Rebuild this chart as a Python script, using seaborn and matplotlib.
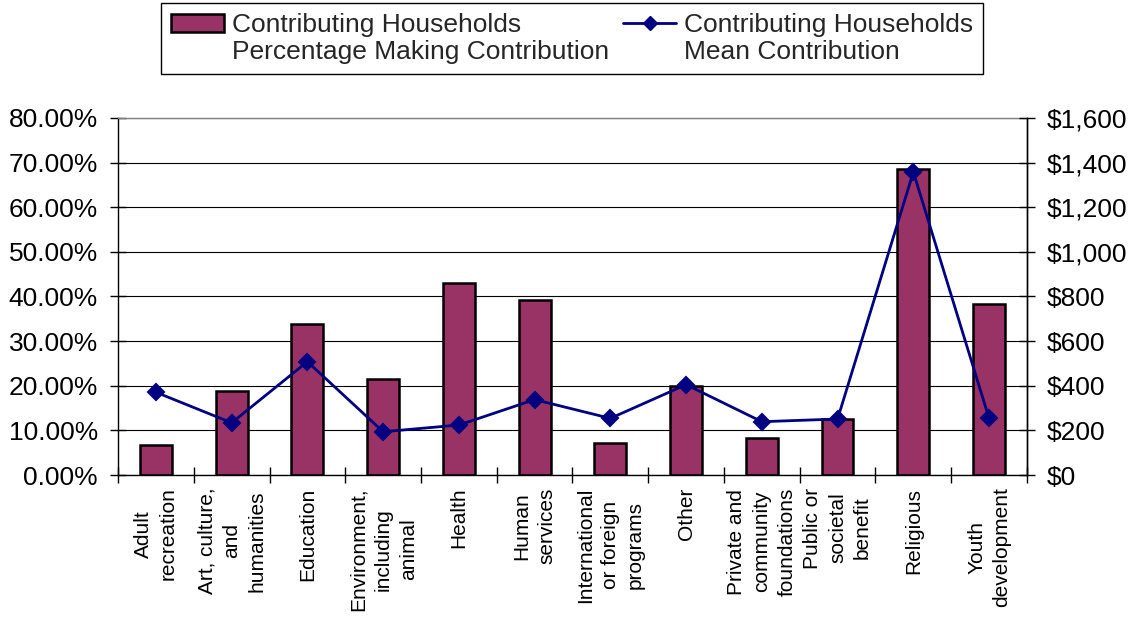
import numpy as np
import seaborn as sns
import matplotlib.pyplot as plt
from matplotlib.lines import Line2D
from matplotlib.patches import Patch
from matplotlib.ticker import PercentFormatter, FuncFormatter, MultipleLocator

# values
categories = [
    "Adult\nrecreation",
    "Art, culture,\nand\nhumanities",
    "Education",
    "Environment,\nincluding\nanimal",
    "Health",
    "Human\nservices",
    "International\nor foreign\nprograms",
    "Other",
    "Private and\ncommunity\nfoundations",
    "Public or\nsocietal\nbenefit",
    "Religious",
    "Youth\ndevelopment",
]
pct_making = [6.7, 18.8, 33.9, 21.6, 43.0, 39.3, 7.2, 20.0, 8.4, 12.6, 68.6, 38.4]
mean_contribution = [371, 234, 508, 194, 224, 338, 254, 405, 239, 251, 1358, 254]

bar_legend = ["Contributing Households", "Percentage Making Contribution"]
line_legend = ["Contributing Households", "Mean Contribution"]

bar_color = "#993366"
line_color = "#000080"

sns.set_theme(style="white")
plt.rcParams["font.family"] = ["Liberation Sans", "DejaVu Sans"]

fig = plt.figure(figsize=(11.35, 6.17), dpi=100)
ax = fig.add_axes([0.104, 0.2301, 0.8008, 0.5787])

# bars - percentage making contribution
sns.barplot(x=categories, y=pct_making, ax=ax, color=bar_color, saturation=1,
            width=0.42, edgecolor="black", linewidth=1.8)

# line - mean contribution on the right axis
ax2 = ax.twinx()
sns.pointplot(x=categories, y=mean_contribution, ax=ax2, color=line_color,
              markers="D", markersize=8.5, linewidth=2, errorbar=None)

# left axis
ax.set_ylim(0, 80)
ax.yaxis.set_major_locator(MultipleLocator(10))
ax.yaxis.set_major_formatter(PercentFormatter(100, decimals=2))
ax.grid(axis="y", color="black", linewidth=0.8)
ax.set_axisbelow(True)
ax.tick_params(axis="y", left=True, direction="inout", length=11, width=1,
               pad=9, labelsize=19, color="black", labelcolor="black")

# right axis
ax2.set_ylim(0, 1600)
ax2.yaxis.set_major_locator(MultipleLocator(200))
ax2.yaxis.set_major_formatter(FuncFormatter(lambda v, p: f"${v:,.0f}"))
ax2.tick_params(axis="y", right=True, left=False, direction="inout", length=11,
                width=1, pad=9, labelsize=19, color="black", labelcolor="black")
ax2.set_ylabel("")

# category axis: labels centred, tick marks between categories
ax.set_xlim(-0.5, len(categories) - 0.5)
ax.set_xticks(np.arange(len(categories)))
ax.set_xticklabels(categories, rotation=90, fontsize=15, linespacing=1.4,
                   ha="center", va="top", multialignment="center")
ax.set_xticks(np.arange(len(categories) + 1) - 0.5, minor=True)
ax.tick_params(axis="x", which="major", bottom=True, length=0, pad=9, labelcolor="black")
ax.tick_params(axis="x", which="minor", bottom=True, direction="inout", length=11,
               width=1, color="black")
ax.set_xlabel("")
ax.set_ylabel("")

for name, sp in ax.spines.items():
    sp.set_color("black")
    sp.set_linewidth(1)
ax.spines["top"].set_color("#808080")
for name, sp in ax2.spines.items():
    sp.set_visible(name == "right")
ax2.spines["right"].set_color("black")
ax2.spines["right"].set_linewidth(1)

# legend: two columns, each label on two rows
handles = [
    Patch(facecolor=bar_color, edgecolor="black", linewidth=1.8),
    Line2D([], [], linestyle="none"),
    Line2D([], [], color=line_color, marker="D", markersize=7.5, linewidth=2),
    Line2D([], [], linestyle="none"),
]
labels = [bar_legend[0], bar_legend[1], line_legend[0], line_legend[1]]
leg = fig.legend(handles, labels, ncol=2, loc="upper center",
                 bbox_to_anchor=(0.504, 0.995), frameon=True, fancybox=False,
                 edgecolor="black", framealpha=1, fontsize=19, handlelength=2.0,
                 handletextpad=0.3, columnspacing=0.55, labelspacing=0.1,
                 borderpad=0.38, borderaxespad=0)
leg.get_frame().set_linewidth(1)

fig.savefig("out.png", dpi=100)
